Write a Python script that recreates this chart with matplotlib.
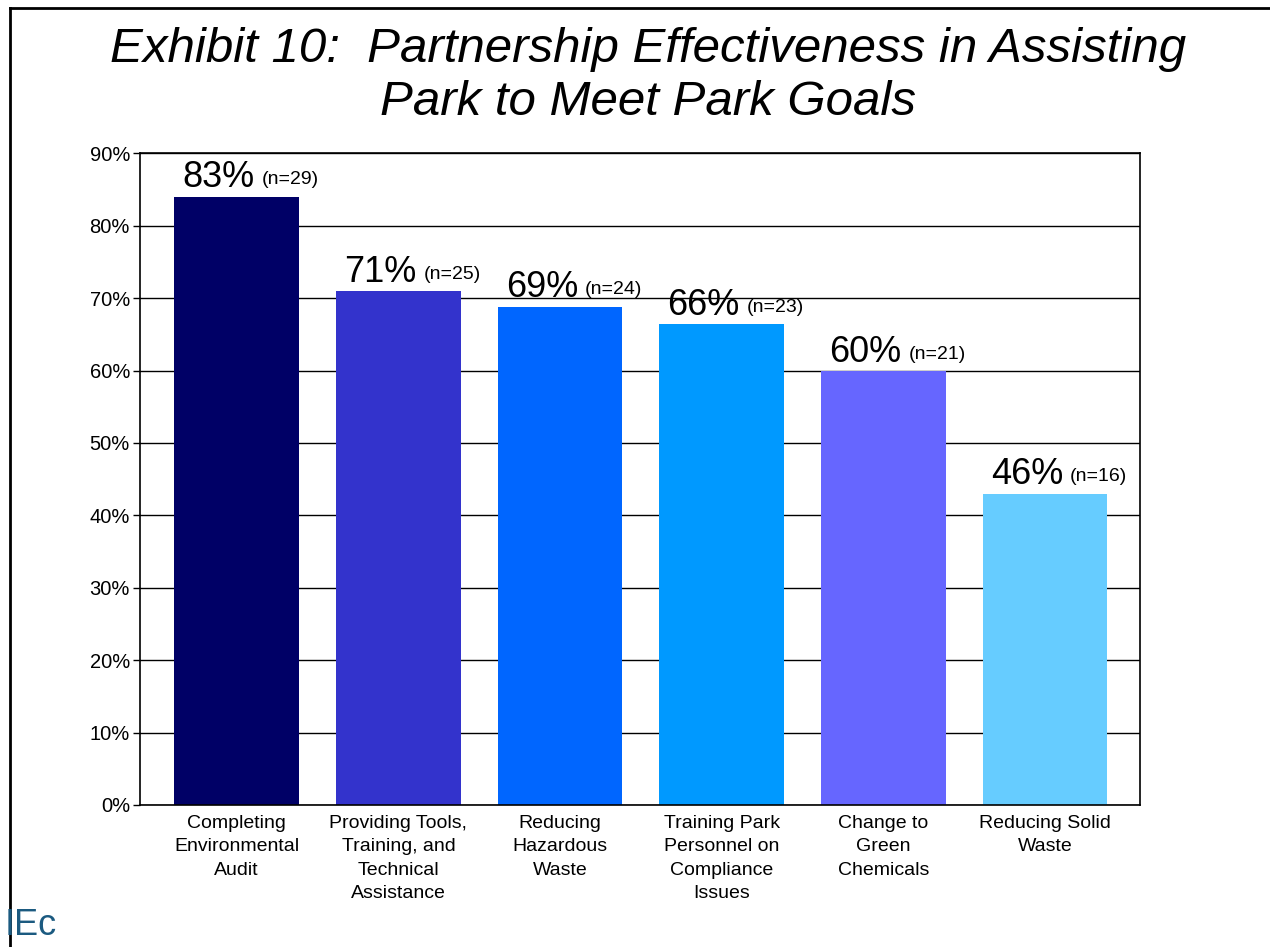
import numpy as np
import matplotlib
matplotlib.use('Agg')
import matplotlib.pyplot as plt
from matplotlib.ticker import FuncFormatter
from matplotlib.lines import Line2D

plt.rcParams['font.family'] = ['Liberation Sans', 'DejaVu Sans']

# Data
categories = ['Completing\nEnvironmental\nAudit',
              'Providing Tools,\nTraining, and\nTechnical\nAssistance',
              'Reducing\nHazardous\nWaste',
              'Training Park\nPersonnel on\nCompliance\nIssues',
              'Change to\nGreen\nChemicals',
              'Reducing Solid\nWaste']
bar_values = [0.84, 0.71, 0.688, 0.664, 0.599, 0.43]
pct_labels = ['83%', '71%', '69%', '66%', '60%', '46%']
n_labels = ['(n=29)', '(n=25)', '(n=24)', '(n=23)', '(n=21)', '(n=16)']
colors = ['#000066', '#3333CC', '#0066FF', '#0099FF', '#6666FF', '#66CCFF']

fig = plt.figure(figsize=(12.7, 9.47), dpi=100)
ax = fig.add_axes([0.110, 0.150, 0.788, 0.688])

x = np.arange(len(categories))
width = 0.77
bars = ax.bar(x, bar_values, width=width, color=colors, zorder=2)

ax.set_xlim(-0.6, 5.59)
ax.set_ylim(0, 0.9)
ax.set_yticks(np.arange(0, 0.91, 0.1))
ax.yaxis.set_major_formatter(FuncFormatter(lambda v, p: f'{v * 100:.0f}%'))
ax.tick_params(axis='y', labelsize=14.5, length=5, width=1, pad=2)
ax.set_xticks(x)
ax.set_xticklabels(categories, fontsize=14)
for lbl in ax.get_xticklabels():
    lbl.set_linespacing(1.5)
ax.tick_params(axis='x', length=0, pad=7)
ax.grid(axis='y', color='black', linewidth=1, zorder=0)
ax.set_axisbelow(True)
for s in ax.spines.values():
    s.set_linewidth(1.2)

# value labels above bars
for i, b in enumerate(bars):
    t = ax.text(b.get_x() + 0.05, b.get_height() + 0.002, pct_labels[i],
                fontsize=26, ha='left', va='bottom', zorder=3)
    ax.annotate(n_labels[i], xy=(1, 0.2), xycoords=t, xytext=(5, 0),
                textcoords='offset points', fontsize=14, ha='left', va='bottom')

fig.text(0.51, 0.972, 'Exhibit 10:  Partnership Effectiveness in Assisting\nPark to Meet Park Goals',
         fontsize=35.5, style='italic', ha='center', va='top', linespacing=1.25)

# page border lines
fig.add_artist(Line2D([0.008, 0.008], [0, 0.992], color='black', linewidth=2,
                      transform=fig.transFigure))
fig.add_artist(Line2D([0.008, 1.0], [0.992, 0.992], color='black', linewidth=2,
                      transform=fig.transFigure))

# logo text
fig.text(0.004, 0.004, 'IEc', fontsize=26, color='#1b5a80', ha='left', va='bottom')

fig.savefig('out.png', dpi=100)
